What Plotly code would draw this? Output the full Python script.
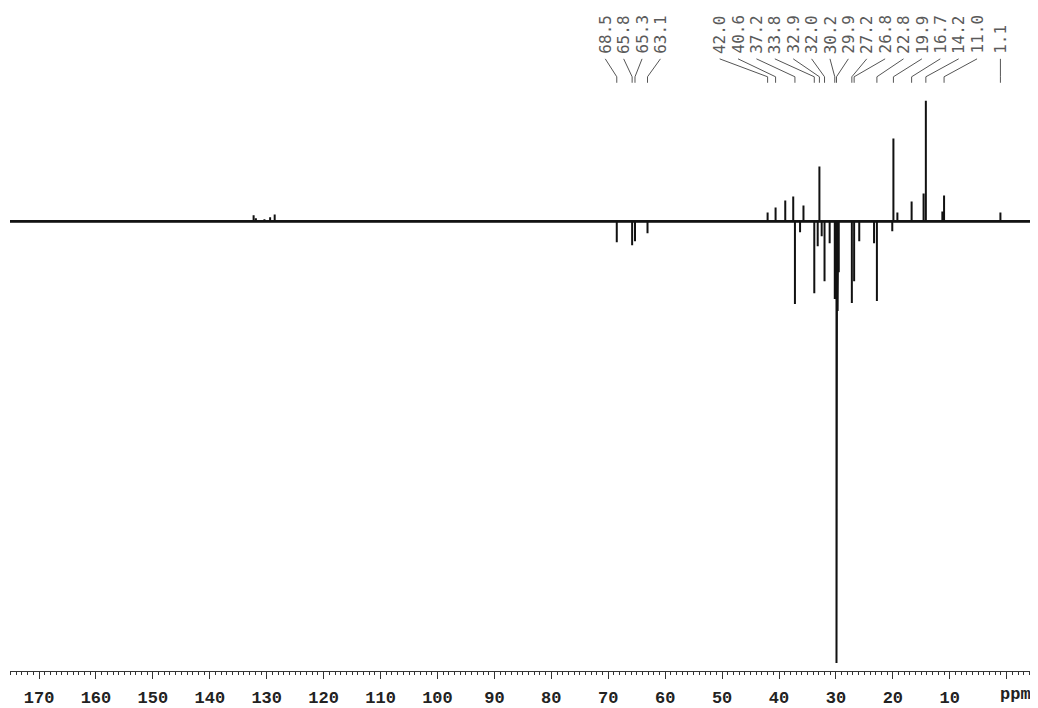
import plotly.graph_objects as go

# ---- data: DEPT-135 13C spectrum (ppm, relative intensity; CH/CH3 up, CH2 down)
peak_ppm = [132.3, 131.9, 130.4, 129.4, 128.6,
            68.5, 65.8, 65.3, 63.1,
            42.0, 40.6, 38.9, 37.5, 37.2, 36.3, 35.7,
            33.8, 33.2, 32.9, 32.5, 32.0, 31.1,
            30.2, 30.1, 29.9, 29.8, 29.7, 29.6, 29.5,
            27.2, 26.8, 25.9, 23.3, 22.8,
            20.1, 19.9, 19.2, 16.7, 14.6, 14.2, 11.3, 11.0, 1.1]
peak_int = [6, 3, 2, 4, 7,
            -21, -24, -20, -12,
            9, 14, 21, 25, -83, -11, 16,
            -72, -25, 55, -15, -60, -22,
            -78, -70, -443, -95, -90, -60, -51,
            -82, -60, -20, -22, -80,
            -10, 83, 9, 20, 28, 121, 10, 26, 9]

label_ppm = [68.5, 65.8, 65.3, 63.1,
             42.0, 40.6, 37.2, 33.8, 32.9, 32.0, 30.2, 29.9, 27.2, 26.8,
             22.8, 19.9, 16.7, 14.2, 11.0, 1.1]
label_groups = [4, 15, 1]          # consecutive labels drawn as a fanned group

tick_vals = [170, 160, 150, 140, 130, 120, 110, 100, 90, 80, 70, 60, 50, 40, 30, 20, 10, 0]
tick_text = ["170", "160", "150", "140", "130", "120", "110", "100", "90", "80",
             "70", "60", "50", "40", "30", "20", "10", ""]

X_RANGE = [175.1, -4.8]
Y_RANGE = [-451, 214]
OFF = 8.0          # page offset of the figure
PLOT_H = 665.0

# ---- build stick spectrum
order = sorted(range(len(peak_ppm)), key=lambda i: -peak_ppm[i])
xs, ys = [X_RANGE[0]], [0]
for i in order:
    p, h = peak_ppm[i], peak_int[i]
    xs += [p, p, p]
    ys += [0, h, 0]
xs.append(X_RANGE[1])
ys.append(0)

fig = go.Figure()
# slightly thicker baseline (noise band)
fig.add_trace(go.Scatter(x=[X_RANGE[0], X_RANGE[1]], y=[0, 0], mode="lines",
                         line=dict(color="#222222", width=2.6),
                         hoverinfo="skip", showlegend=False))
fig.add_trace(go.Scatter(x=xs, y=ys, mode="lines",
                         line=dict(color="#111111", width=2),
                         hoverinfo="skip", showlegend=False))

# ---- peak labels with fan connectors
SPACING = 3.23  # ppm between neighbouring labels
def py(px):
    return 1 - (px - OFF) / PLOT_H

shapes, annots = [], []
idx = 0
for n in label_groups:
    grp = label_ppm[idx:idx + n]
    idx += n
    centre = sum(grp) / n
    for k, p in enumerate(grp):
        lx = centre - (k - (n - 1) / 2) * SPACING if n > 1 else p
        annots.append(dict(x=lx, y=py(56), xref="x", yref="paper",
                           text=f"{p:.1f}", textangle=-90, showarrow=False,
                           xanchor="center", yanchor="bottom",
                           font=dict(family="DejaVu Sans Mono", size=16, color="#5a5a5a")))
        shapes.append(dict(type="line", xref="x", yref="paper",
                           x0=lx, y0=py(59), x1=p, y1=py(77),
                           line=dict(color="#555555", width=1)))
        shapes.append(dict(type="line", xref="x", yref="paper",
                           x0=p, y0=py(77), x1=p, y1=py(83),
                           line=dict(color="#555555", width=1)))

annots.append(dict(x=-1.6, y=py(697), xref="x", yref="paper", text="ppm",
                   showarrow=False, xanchor="center", yanchor="middle",
                   font=dict(family="Liberation Mono", size=17, color="#222222", weight="bold")))

fig.update_layout(
    width=1030, height=700,
    margin=dict(l=2, r=4, t=0, b=35),
    paper_bgcolor="white", plot_bgcolor="white",
    shapes=shapes, annotations=annots,
    xaxis=dict(range=X_RANGE, showgrid=False, zeroline=False,
               showline=True, linecolor="#333333", linewidth=1,
               ticks="outside", ticklen=7, tickwidth=1, tickcolor="#333333",
               tickvals=tick_vals, ticktext=tick_text, ticklabelstandoff=4,
               tickfont=dict(family="Liberation Mono", size=17, color="#222222", weight="bold"),
               minor=dict(ticks="outside", ticklen=3, tickwidth=1, tickcolor="#333333",
                          dtick=1, tick0=0, showgrid=False)),
    yaxis=dict(range=Y_RANGE, visible=False, showgrid=False, zeroline=False),
)

fig.write_html("out.html")
